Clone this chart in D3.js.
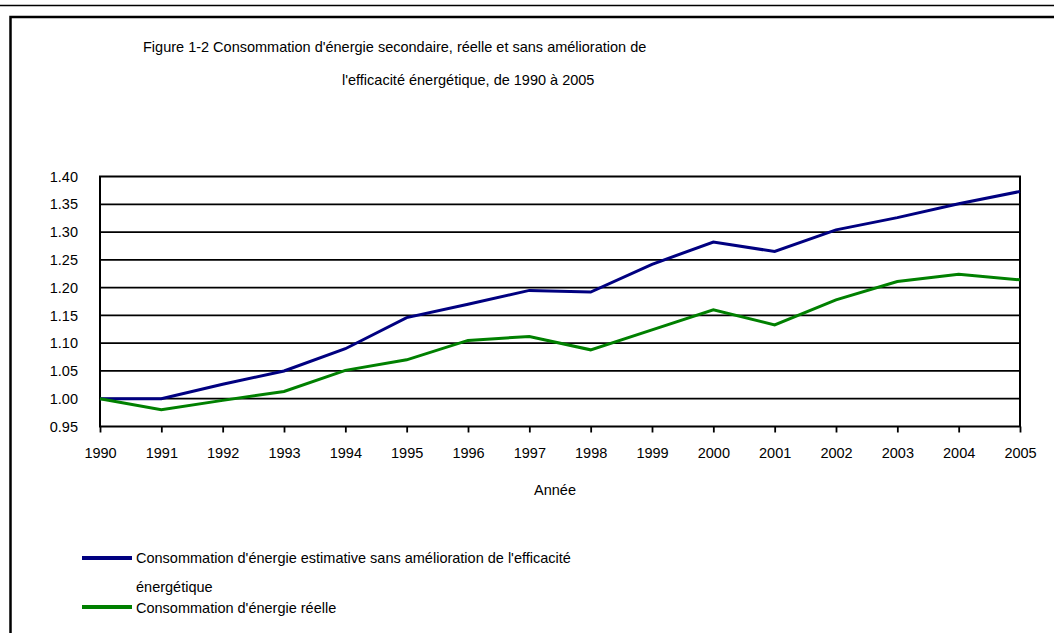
<!DOCTYPE html>
<html>
<head>
<meta charset="utf-8">
<script src="https://cdn.jsdelivr.net/npm/d3@7"></script>
<style>
  html, body { margin: 0; padding: 0; background: #fff; }
  svg { display: block; }
  text { font-family: "Liberation Sans", Arial, sans-serif; fill: #000; }
</style>
</head>
<body>
<svg id="chart" width="1054" height="633"></svg>
<script>
const years = [1990,1991,1992,1993,1994,1995,1996,1997,1998,1999,2000,2001,2002,2003,2004,2005];
const estimatedNoEfficiency = [1.000,1.000,1.026,1.050,1.090,1.146,1.170,1.195,1.192,1.242,1.282,1.265,1.304,1.326,1.351,1.373];
const actualConsumption   = [1.000,0.980,0.997,1.013,1.051,1.070,1.105,1.112,1.088,1.124,1.160,1.133,1.178,1.211,1.224,1.214];
const yTicks = [0.95,1.00,1.05,1.10,1.15,1.20,1.25,1.30,1.35,1.40];
const titleLines = ["Figure 1-2 Consommation d'énergie secondaire, réelle et sans amélioration de",
                    "l'efficacité énergétique, de 1990 à 2005"];
const xAxisTitle = "Année";
const seriesNames = ["Consommation d'énergie estimative sans amélioration de l'efficacité", "énergétique",
                     "Consommation d'énergie réelle"];

const FS = "14.5px";
const svg = d3.select("#chart");
const W = 1054, H = 633;
const L = 100, R = 1020, T = 176.5, B = 426.5;

// outer decorations
svg.append("line").attr("x1", 0).attr("x2", W).attr("y1", 5.5).attr("y2", 5.5)
  .attr("stroke", "#000").attr("stroke-width", 1.3);
svg.append("path").attr("d", `M10.5,${H}V17H${W}`).attr("fill", "none")
  .attr("stroke", "#000").attr("stroke-width", 2.5);

// title
svg.append("text").attr("x", 143).attr("y", 52).style("font-size", FS).text(titleLines[0]);
svg.append("text").attr("x", 342).attr("y", 84.5).style("font-size", FS).text(titleLines[1]);

const x = d3.scalePoint().domain(years).range([L, R]);
const y = d3.scaleLinear().domain([0.95, 1.40]).range([B, T]);

// gridlines
svg.append("g").selectAll("line").data(yTicks.filter(v => v > 0.95 && v < 1.40)).join("line")
  .attr("x1", L).attr("x2", R).attr("y1", d => y(d)).attr("y2", d => y(d))
  .attr("stroke", "#000").attr("stroke-width", 1.8);

// plot border
svg.append("rect").attr("x", L).attr("y", T).attr("width", R - L).attr("height", B - T)
  .attr("fill", "none").attr("stroke", "#000").attr("stroke-width", 2);

// x axis
const xAxis = d3.axisBottom(x).tickSize(6).tickPadding(15).tickFormat(d3.format("d"));
const gx = svg.append("g").attr("transform", `translate(0,${B})`).call(xAxis);
gx.select(".domain").remove();
gx.selectAll(".tick line").attr("stroke", "#000").attr("stroke-width", 1.8);
gx.selectAll(".tick text").style("font-size", FS).style("font-family", "Liberation Sans, Arial, sans-serif").attr("fill", "#000");

// y axis
const yAxis = d3.axisLeft(y).tickValues(yTicks).tickSize(0).tickPadding(22).tickFormat(d3.format(".2f"));
const gy = svg.append("g").attr("transform", `translate(${L},0)`).call(yAxis);
gy.select(".domain").remove();
gy.selectAll(".tick text").style("font-size", FS).style("font-family", "Liberation Sans, Arial, sans-serif").attr("fill", "#000");

// axis title
svg.append("text").attr("x", 555).attr("y", 495).attr("text-anchor", "middle")
  .style("font-size", FS).text(xAxisTitle);

// series lines
const line = d3.line().x((d, i) => x(years[i])).y(d => y(d));
svg.append("path").datum(estimatedNoEfficiency).attr("d", line)
  .attr("fill", "none").attr("stroke", "#000080").attr("stroke-width", 3);
svg.append("path").datum(actualConsumption).attr("d", line)
  .attr("fill", "none").attr("stroke", "#008000").attr("stroke-width", 3);

// legend
svg.append("line").attr("x1", 82).attr("x2", 132).attr("y1", 558).attr("y2", 558)
  .attr("stroke", "#000080").attr("stroke-width", 4);
svg.append("line").attr("x1", 82).attr("x2", 132).attr("y1", 607).attr("y2", 607)
  .attr("stroke", "#008000").attr("stroke-width", 4);
svg.append("text").attr("x", 136).attr("y", 563).style("font-size", FS).text(seriesNames[0]);
svg.append("text").attr("x", 136).attr("y", 592).style("font-size", FS).text(seriesNames[1]);
svg.append("text").attr("x", 136).attr("y", 612.5).style("font-size", FS).text(seriesNames[2]);
</script>
</body>
</html>
